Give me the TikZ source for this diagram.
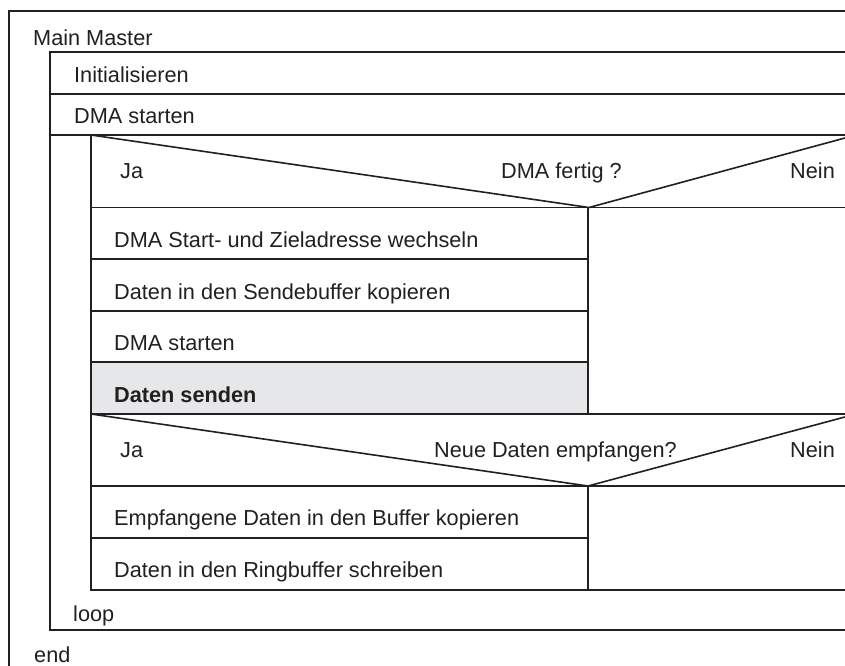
\documentclass[tikz,border=0pt]{standalone}
\usepackage{fontspec}
\setmainfont{Liberation Sans}
\definecolor{ink}{HTML}{231F20}
\definecolor{hilite}{HTML}{E6E7E8}
\begin{document}
\begin{tikzpicture}[x=1bp,y=-1bp,
  every node/.style={inner sep=0pt, anchor=base west, text=ink,
    font=\fontsize{21.7bp}{24bp}\selectfont},
  frame/.style={draw=ink, line width=1.6bp},
  bold/.style={font=\fontsize{21.7bp}{24bp}\selectfont\bfseries}]
\useasboundingbox (0,0) rectangle (845,666);
\clip (0,0) rectangle (845,666);

% gray action row
\fill[hilite] (91,362) rectangle (588,414);

% outer program frame and main body
\draw[frame] (9,700) -- (9,11) -- (900,11);
\draw[frame] (900,52) -- (50,52) -- (50,630) -- (900,630);
\draw[frame] (50,94) -- (900,94);
\draw[frame] (50,135) -- (900,135);

% loop body
\draw[frame] (91,135) -- (91,590) -- (900,590);

% first decision
\draw[frame] (91,135) -- (589,207.5) -- (856,135);
\draw[frame] (91,207.5) -- (900,207.5);
\draw[frame] (588,207.5) -- (588,414);
\draw[frame] (91,259) -- (588,259);
\draw[frame] (91,311) -- (588,311);
\draw[frame] (91,362) -- (588,362);
\draw[frame] (91,414) -- (900,414);

% second decision
\draw[frame] (91,414) -- (588,486) -- (856,414);
\draw[frame] (91,486) -- (900,486);
\draw[frame] (588,486) -- (588,590);
\draw[frame] (91,538) -- (588,538);

% texts
\node (mm) at (33,45.5) {Main Master};
\node (init) at (74,83) {Initialisieren};
\node (dma1) at (74,124) {DMA starten};
\node (ja1) at (120,178) {Ja};
\node (q1) at (501,178) {DMA fertig ?};
\node (nein1) at (790,178) {Nein};
\node (s1) at (114,247) {DMA Start- und Zieladresse wechseln};
\node (s2) at (114,299) {Daten in den Sendebuffer kopieren};
\node (s3) at (114,350) {DMA starten};
\node[bold] (s4) at (114,402) {Daten senden};
\node (ja2) at (120,457) {Ja};
\node (q2) at (434,457) {Neue Daten empfangen?};
\node (nein2) at (790,457) {Nein};
\node (r1) at (114,525) {Empfangene Daten in den Buffer kopieren};
\node (r2) at (114,577) {Daten in den Ringbuffer schreiben};
\node (lp) at (73,621) {loop};
\node (en) at (34,662) {end};
\end{tikzpicture}
\end{document}
